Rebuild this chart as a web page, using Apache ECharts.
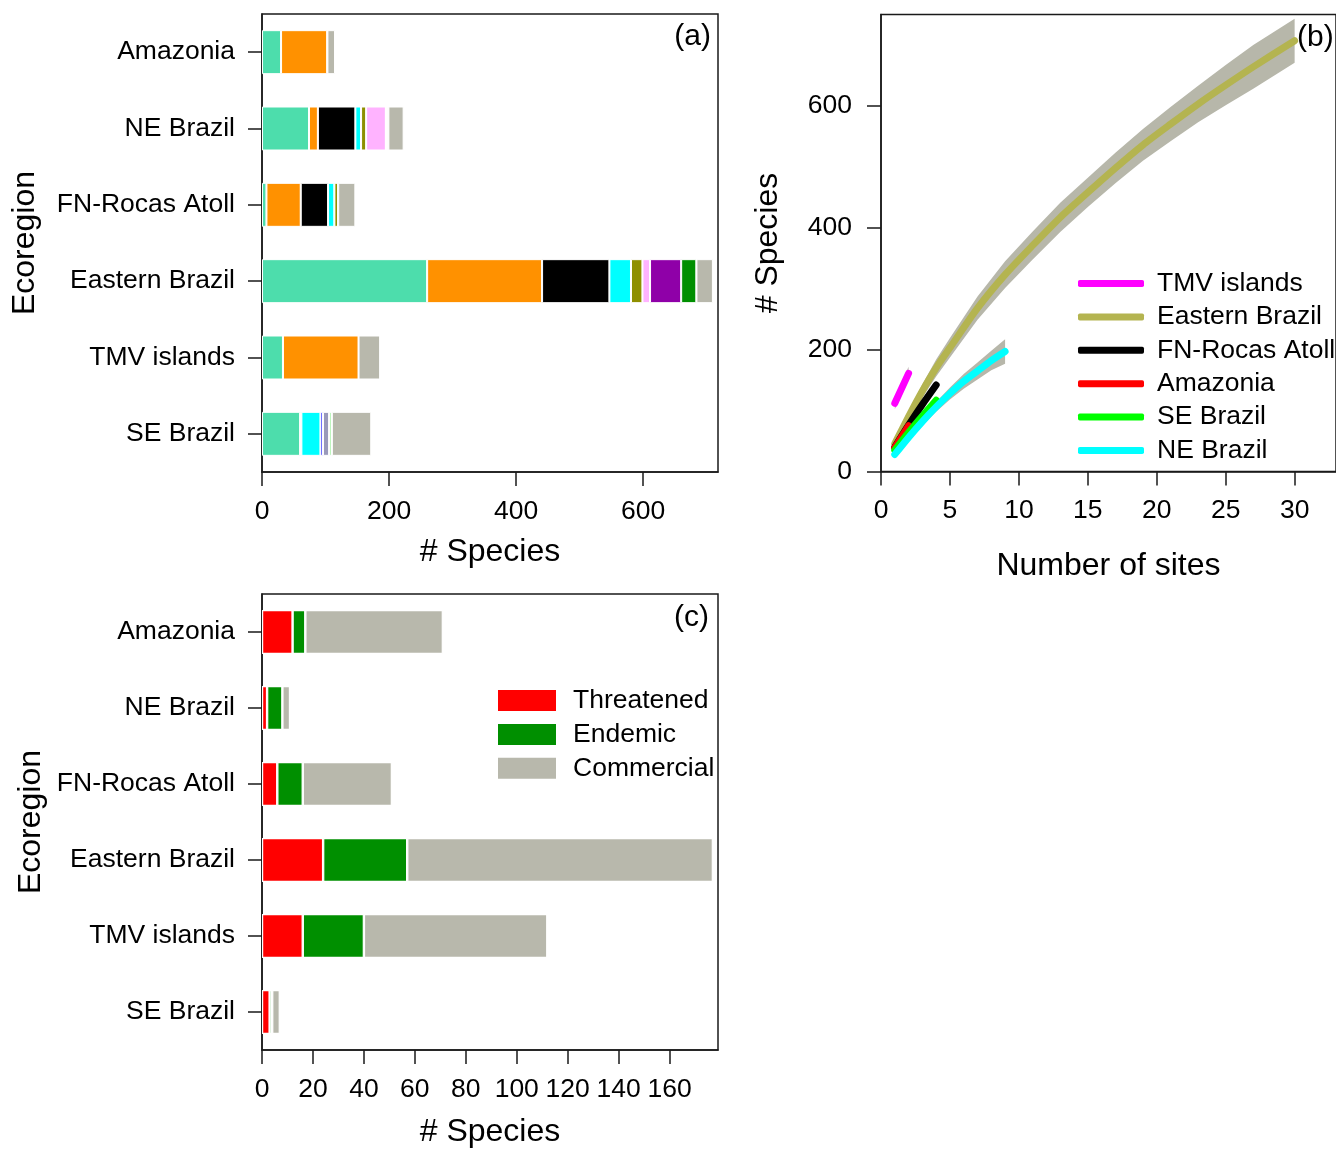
<!DOCTYPE html>
<html><head><meta charset="utf-8">
<script src="https://cdn.jsdelivr.net/npm/echarts@6/dist/echarts.min.js"></script>
<style>html,body{margin:0;padding:0;background:#fff}#c{width:1336px;height:1149px}</style>
</head><body><div id="c"></div>
<script>
// ---------- data ----------
const ecoregions = ['Amazonia', 'NE Brazil', 'FN-Rocas Atoll', 'Eastern Brazil', 'TMV islands', 'SE Brazil'];

// panel (a): species per group (stacked), one value per ecoregion
const groupA1 = [30, 74, 7, 260, 33, 60];
const groupA2 = [73, 14, 54, 181, 119, 2];
const groupA3 = [0, 59, 43, 106, 0, 0];
const groupA4 = [0, 9, 10, 34, 0, 30];
const groupA5 = [0, 0, 0, 0, 0, 4];
const groupA6 = [0, 0, 0, 0, 0, 10];
const groupA7 = [0, 8, 6, 18, 0, 0];
const groupA8 = [0, 31, 0, 12, 0, 0];
const groupA9 = [0, 0, 0, 49, 0, 0];
const groupA10 = [0, 0, 0, 24, 0, 0];
const groupA11 = [0, 0, 0, 0, 0, 4];
const groupA12 = [0, 4, 0, 0, 0, 0];
const groupA13 = [12, 24, 27, 26, 34, 62];
const groupsA = [groupA1, groupA2, groupA3, groupA4, groupA5, groupA6, groupA7, groupA8, groupA9, groupA10, groupA11, groupA12, groupA13];
const colorsA = ['#4DDDAC', '#FF9100', '#000000', '#00FFFF', '#0000FF', '#9999BB', '#8F8F00', '#FFB3FF', '#8F00A8', '#008F00', '#90EE90', '#FFFDF2', '#B8B8AC'];

// panel (c)
const threatened = [12, 2, 6, 24, 16, 3];
const endemic = [5, 6, 10, 33, 24, 1];
const commercial = [54, 3, 35, 120, 72, 3];
const ticksA = [0, 200, 400, 600];
const ticksC = [0, 20, 40, 60, 80, 100, 120, 140, 160];

// panel (b): rarefaction curves  [sites, mean, lower, upper]
const curveNames = ['TMV islands', 'Eastern Brazil', 'FN-Rocas Atoll', 'Amazonia', 'SE Brazil', 'NE Brazil'];
const tmvSites = [1, 2];
const tmvMean = [112, 161];
const tmvLo = [102, 150];
const tmvHi = [122, 172];
const easSites = [1, 2, 3, 4, 5, 7, 9, 11, 13, 15, 17, 19, 21, 23, 25, 27, 30];
const easMean = [46, 90, 132, 170, 203, 268, 323, 371, 417, 458, 498, 536, 570, 603, 634, 664, 707];
const easLo = [42, 82, 121, 156, 187, 249, 301, 348, 393, 434, 473, 510, 542, 573, 601, 628, 671];
const easHi = [50, 98, 143, 184, 219, 287, 345, 394, 441, 482, 523, 562, 598, 633, 667, 700, 743];
const fnSites = [1, 2, 3, 4];
const fnMean = [40, 76, 110, 142];
const fnLo = [37, 71, 104, 135];
const fnHi = [43, 81, 116, 149];
const amzSites = [1, 2];
const amzMean = [39, 75];
const amzLo = [36, 71];
const amzHi = [42, 79];
const seSites = [1, 2, 3, 4];
const seMean = [35, 64, 91, 117];
const seLo = [32, 59, 86, 111];
const seHi = [38, 69, 96, 123];
const neSites = [1, 2, 3, 4, 5, 6, 7, 8, 9];
const neMean = [28, 56, 82, 106, 128, 148, 165, 182, 197];
const neLo = [26, 51, 75, 98, 118, 136, 151, 166, 177];
const neHi = [30, 61, 89, 114, 138, 160, 179, 198, 217];
const curveColors = ['#FF00FF', '#B4B450', '#000000', '#FF0000', '#00FF00', '#00FFFF'];
const ticksBx = [0, 5, 10, 15, 20, 25, 30];
const ticksBy = [0, 200, 400, 600];

// ---------- chart ----------
const FONT = '"Liberation Sans", Arial, sans-serif';
const AX = '#1a1a1a';
const chart = echarts.init(document.getElementById('c'), null, {renderer: 'canvas'});

function valueAxis(grid, max, ticks, name, gap) {
  return {
    type: 'value', gridIndex: grid, min: 0, max: max,
    name: name, nameLocation: 'middle', nameGap: gap,
    nameTextStyle: {fontSize: 32, color: '#000', fontFamily: FONT},
    axisLine: {show: true, onZero: false, lineStyle: {color: AX, width: 1.5}},
    axisTick: {show: true, length: 14, lineStyle: {color: AX, width: 1.5}, customValues: ticks},
    axisLabel: {fontSize: 26.5, color: '#000', fontFamily: FONT, margin: 26, customValues: ticks},
    splitLine: {show: false}
  };
}
function catAxis(grid, name, gap) {
  return {
    type: 'category', gridIndex: grid, data: ecoregions, inverse: true,
    name: name, nameLocation: 'middle', nameGap: gap, nameRotate: 90,
    nameTextStyle: {fontSize: 32, color: '#000', fontFamily: FONT},
    axisLine: {show: true, lineStyle: {color: AX, width: 1.5}},
    axisTick: {show: true, alignWithLabel: true, length: 14, lineStyle: {color: AX, width: 1.5}},
    axisLabel: {fontSize: 26.5, color: '#000', fontFamily: FONT, margin: 27},
    splitLine: {show: false}
  };
}

const series = [];
groupsA.forEach((arr, i) => {
  series.push({
    type: 'bar', name: 'group ' + (i + 1), xAxisIndex: 0, yAxisIndex: 0, stack: 'a',
    barWidth: 44, data: arr, silent: true,
    itemStyle: {color: colorsA[i], borderColor: '#fff', borderWidth: 1}
  });
});
[['Threatened', threatened, '#FF0000'], ['Endemic', endemic, '#008F00'], ['Commercial', commercial, '#B8B8AC']].forEach(([n, arr, col]) => {
  series.push({
    type: 'bar', name: n, xAxisIndex: 2, yAxisIndex: 2, stack: 'c',
    barWidth: 44, data: arr, silent: true,
    itemStyle: {color: col, borderColor: '#fff', borderWidth: 1.2}
  });
});

const curves = [
  [tmvSites, tmvMean, tmvLo, tmvHi],
  [easSites, easMean, easLo, easHi],
  [fnSites, fnMean, fnLo, fnHi],
  [amzSites, amzMean, amzLo, amzHi],
  [seSites, seMean, seLo, seHi],
  [neSites, neMean, neLo, neHi]
];
// confidence bands first
curves.forEach(([xs, m, lo, hi], i) => {
  const data = xs.map((x, k) => [x, lo[k], hi[k]]);
  series.push({
    type: 'custom', name: curveNames[i] + ' band', xAxisIndex: 1, yAxisIndex: 1, silent: true,
    data: data, encode: {x: 0, y: [1, 2]},
    renderItem: function (params, api) {
      if (params.dataIndex !== 0) return null;
      const upper = data.map(d => api.coord([d[0], d[2]]));
      const lower = data.map(d => api.coord([d[0], d[1]])).reverse();
      return {type: 'polygon', shape: {points: upper.concat(lower)}, style: {fill: '#B7B7AA', stroke: null}};
    }
  });
});
curves.forEach(([xs, m], i) => {
  series.push({
    type: 'line', name: curveNames[i], xAxisIndex: 1, yAxisIndex: 1, silent: true,
    data: xs.map((x, k) => [x, m[k]]), showSymbol: false, smooth: 0.25,
    itemStyle: {color: curveColors[i]},
    lineStyle: {color: curveColors[i], width: 7, cap: 'round', join: 'round'}
  });
});

const option = {
  animation: false,
  backgroundColor: '#fff',
  grid: [
    {left: 262, top: 14, width: 456, height: 458, show: true, borderColor: AX, borderWidth: 1.5, backgroundColor: 'transparent'},
    {left: 881, top: 14.5, width: 456, height: 457, show: true, borderColor: AX, borderWidth: 1.5, backgroundColor: 'transparent'},
    {left: 262, top: 594, width: 456, height: 457, show: true, borderColor: AX, borderWidth: 1.5, backgroundColor: 'transparent'}
  ],
  xAxis: [
    valueAxis(0, 718, ticksA, '# Species', 64),
    valueAxis(1, 33, ticksBx, 'Number of sites', 79),
    valueAxis(2, 179, ticksC, '# Species', 66)
  ],
  yAxis: [
    catAxis(0, 'Ecoregion', 221),
    Object.assign(valueAxis(1, 750, ticksBy, '# Species', 97), {nameRotate: 90, axisLabel: {fontSize: 26.5, color: '#000', fontFamily: FONT, margin: 29, customValues: ticksBy}}),
    catAxis(2, 'Ecoregion', 215)
  ],
  legend: [
    {
      data: curveNames, orient: 'vertical', left: 1078, top: 270, padding: 0,
      itemWidth: 66, itemHeight: 7, itemGap: 6.4, icon: 'roundRect', selectedMode: false,
      itemStyle: {borderWidth: 0},
      textStyle: {fontSize: 26.5, lineHeight: 26, color: '#000', fontFamily: FONT, padding: [0, 0, 0, 8]}
    },
    {
      data: ['Threatened', 'Endemic', 'Commercial'], orient: 'vertical', left: 498, top: 687, padding: 0,
      itemWidth: 58, itemHeight: 21, itemGap: 6.9, icon: 'rect', selectedMode: false,
      itemStyle: {borderWidth: 0},
      textStyle: {fontSize: 26.5, lineHeight: 26, color: '#000', fontFamily: FONT, padding: [0, 0, 0, 12]}
    }
  ],
  graphic: [
    {type: 'text', x: 711, y: 37, style: {text: '(a)', align: 'right', verticalAlign: 'middle', fontSize: 30, fontFamily: FONT, fill: '#000'}},
    {type: 'text', x: 1297, y: 38, style: {text: '(b)', align: 'left', verticalAlign: 'middle', fontSize: 30, fontFamily: FONT, fill: '#000'}},
    {type: 'text', x: 709, y: 618, style: {text: '(c)', align: 'right', verticalAlign: 'middle', fontSize: 30, fontFamily: FONT, fill: '#000'}}
  ],
  series: series
};
chart.setOption(option);
</script>
</body></html>
